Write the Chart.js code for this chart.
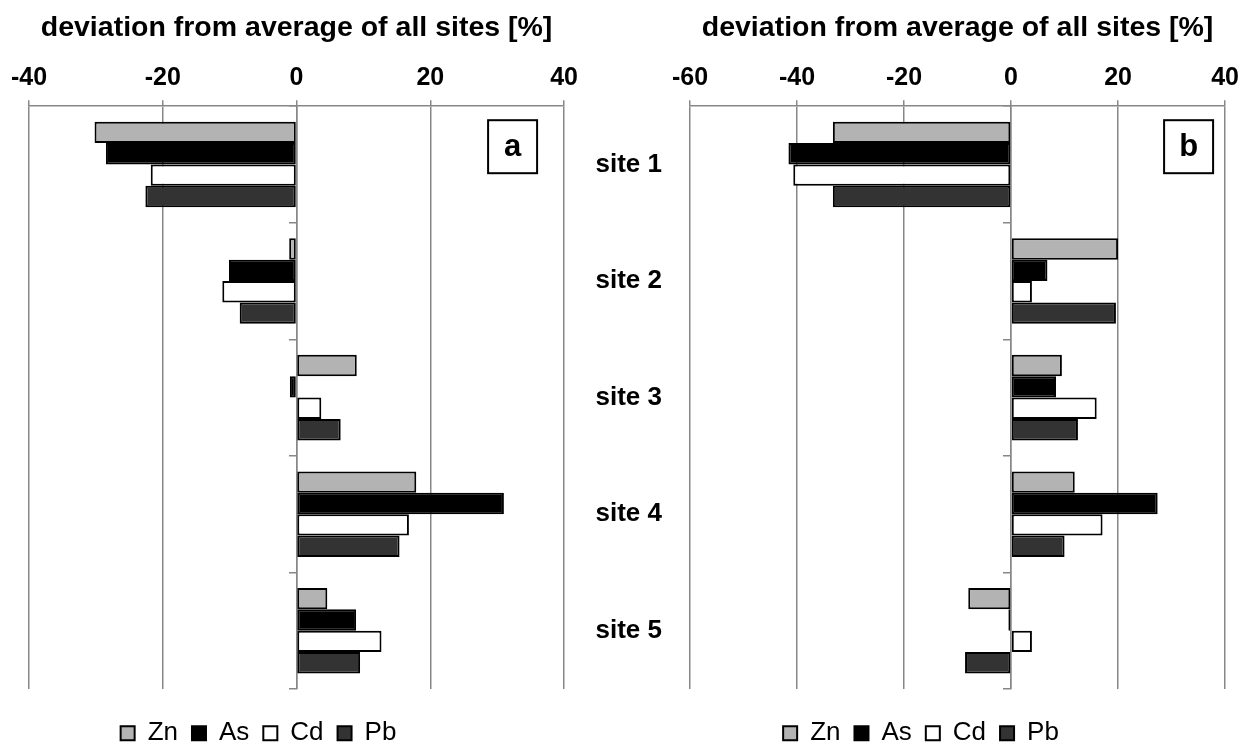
<!DOCTYPE html>
<html>
<head>
<meta charset="utf-8">
<script src="https://cdn.jsdelivr.net/npm/chart.js@4/dist/chart.umd.min.js"></script>
<style>
  html, body { margin: 0; padding: 0; background: #fff; width: 1246px; height: 744px; overflow: hidden; position: relative; }
  .panel { position: absolute; top: 0; height: 744px; }
  #wrapA { left: -48px; width: 633px; }
  #wrapB { left: 585px; width: 661px; }
</style>
</head>
<body>
<div class="panel" id="wrapA"><canvas id="chartA" width="633" height="744"></canvas></div>
<div class="panel" id="wrapB"><canvas id="chartB" width="661" height="744"></canvas></div>
<script>
// Categories and series
const sites = ['site 1', 'site 2', 'site 3', 'site 4', 'site 5'];
const elements = ['Zn', 'As', 'Cd', 'Pb'];
const axisTitle = 'deviation from average of all sites [%]';

// Panel a: deviation (%) per site
const znA = [-30.2, -1.1, 9.0, 17.9, 4.6];
const asA = [-28.5, -10.1, -1.0, 31.0, 8.9];
const cdA = [-21.8, -11.1, 3.7, 16.8, 12.7];
const pbA = [-22.6, -8.5, 6.6, 15.4, 9.5];

// Panel b: deviation (%) per site
const znB = [-33.3, 20.0, 9.5, 11.9, -8.0];
const asB = [-41.6, 6.8, 8.4, 27.4, -0.5];
const cdB = [-40.7, 3.9, 16.0, 17.1, 3.9];
const pbB = [-33.3, 19.6, 12.5, 10.0, -8.6];

// Axis tick values
const ticksA = [-40, -20, 0, 20, 40];
const ticksB = [-60, -40, -20, 0, 20, 40];

// Styling
const fills = ['#b3b3b3', '#000000', '#ffffff', '#333333'];
const FONT = "'Liberation Sans', Arial, sans-serif";
const GRID = '#878787';

// Boxed panel letter in the upper right of the plot area
const panelTag = {
  id: 'panelTag',
  afterDraw(chart, args, opts) {
    const { ctx, chartArea } = chart;
    const w = 49, h = 53;
    const x = chartArea.right - opts.inset - w;
    const y = chartArea.top + 14;
    ctx.save();
    ctx.fillStyle = '#fff';
    ctx.fillRect(x, y, w, h);
    ctx.strokeStyle = '#000';
    ctx.lineWidth = 2;
    ctx.strokeRect(x, y, w, h);
    ctx.fillStyle = '#000';
    ctx.font = 'bold 31px ' + FONT;
    ctx.textAlign = 'center';
    ctx.textBaseline = 'middle';
    ctx.fillText(opts.text, x + w / 2, y + h / 2 + 1);
    ctx.restore();
  }
};

function buildChart(id, series, tickVals, letter, inset, showSites, padLeft, padRight) {
  return new Chart(document.getElementById(id), {
    type: 'bar',
    data: {
      labels: sites,
      datasets: elements.map((name, i) => ({
        label: name,
        data: series[i],
        backgroundColor: fills[i],
        borderColor: '#000',
        borderWidth: 2,
        borderSkipped: false,
        categoryPercentage: 0.734,
        barPercentage: 1,
        xAxisID: 'x',
        yAxisID: 'y'
      }))
    },
    options: {
      indexAxis: 'y',
      responsive: false,
      animation: false,
      layout: { padding: { left: padLeft, right: padRight, top: 0, bottom: 0 } },
      scales: {
        x: {
          type: 'linear',
          position: 'top',
          min: tickVals[0],
          max: tickVals[tickVals.length - 1],
          afterBuildTicks: s => { s.ticks = tickVals.map(v => ({ value: v })); },
          grid: { color: GRID, lineWidth: 1.5, tickLength: 6, tickColor: GRID },
          border: { color: GRID, width: 1.5 },
          ticks: { color: '#000', padding: 7, font: { family: FONT, size: 25, weight: 'bold' } },
          title: {
            display: true,
            text: axisTitle,
            color: '#000',
            font: { family: FONT, size: 28.5, weight: 'bold' },
            padding: { top: 11, bottom: 11 }
          }
        },
        y: {
          type: 'category',
          position: { x: 0 },
          offset: true,
          z: 1,
          grid: { offset: true, drawOnChartArea: false, tickLength: 7, color: GRID, lineWidth: 1.5 },
          border: { color: GRID, width: 1.5 },
          ticks: { display: false }
        },
        yl: {
          type: 'category',
          labels: sites,
          position: 'left',
          offset: true,
          grid: { display: false, drawTicks: false },
          border: { display: false },
          ticks: { display: showSites, color: '#000', padding: 28, font: { family: FONT, size: 26, weight: 'bold' } },
          afterFit: s => {
            // fixed-width label column; site names may run past its left edge
            s.width = 77;
            s._computeLabelArea = () => undefined;
          }
        }
      },
      plugins: {
        legend: {
          position: 'bottom',
          maxHeight: 55,
          title: { display: true, text: '', font: { size: 1 }, padding: { top: 16, bottom: 0 } },
          labels: { boxWidth: 14, boxHeight: 14, padding: 14, color: '#000', font: { family: FONT, size: 26 } }
        },
        tooltip: { enabled: false },
        panelTag: { text: letter, inset: inset }
      }
    },
    plugins: [panelTag]
  });
}

buildChart('chartA', [znA, asA, cdA, pbA], ticksA, 'a', 27, false, 0, 20);
buildChart('chartB', [znB, asB, cdB, pbB], ticksB, 'b', 12, true, 28, 17);
</script>
</body>
</html>
